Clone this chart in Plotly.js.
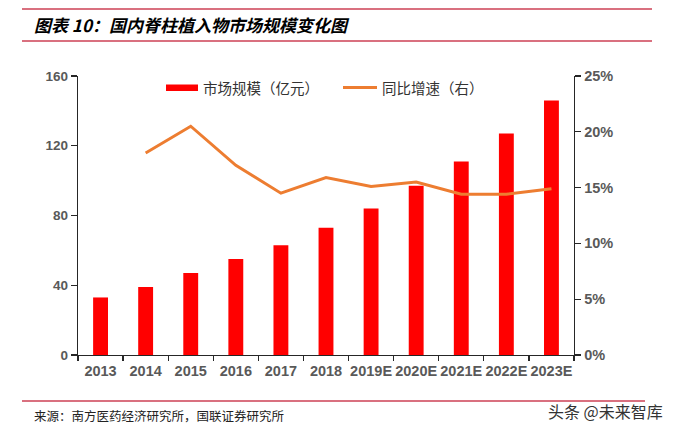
<!DOCTYPE html>
<html>
<head>
<meta charset="utf-8">
<script src="https://cdn.plot.ly/plotly-3.0.1.min.js"></script>
<style>html,body{margin:0;padding:0;background:#fff;}#chart{width:685px;height:433px;}</style>
</head>
<body>
<div id="chart"></div>
<script>
const categories = ['2013','2014','2015','2016','2017','2018','2019E','2020E','2021E','2022E','2023E'];
const marketSize = [33, 39, 47, 55, 63, 73, 84, 97, 111, 127, 146];
const growthRate = [null, 0.181, 0.205, 0.170, 0.145, 0.159, 0.151, 0.155, 0.144, 0.144, 0.149];
const leftTicks = [0, 40, 80, 120, 160];
const rightTicks = [0, 0.05, 0.10, 0.15, 0.20, 0.25];
const seriesNames = ['市场规模（亿元）', '同比增速（右）'];
const titleText = '图表 10：国内脊柱植入物市场规模变化图';
const sourceText = '来源：南方医药经济研究所，国联证券研究所';
const watermarkText = '头条 @未来智库';

const W = 685, H = 433;
const M = {l: 78, r: 111, t: 76, b: 78};
const PW = W - M.l - M.r, PH = H - M.t - M.b;
const px = x => (x - M.l) / PW;
const py = y => (H - M.b - y) / PH;

const axisColor = '#262626';
const tickFontColor = '#595959';
const cjk = '"Noto Sans CJK SC", "Noto Sans", sans-serif';
const arial = 'Liberation Sans, Arial, sans-serif';

const traces = [
  {
    type: 'bar', x: categories, y: marketSize, name: seriesNames[0],
    marker: {color: '#FF0000'}, yaxis: 'y', showlegend: false, hoverinfo: 'x+y'
  },
  {
    type: 'scatter', mode: 'lines', x: categories, y: growthRate, name: seriesNames[1],
    line: {color: '#ED7D31', width: 3}, yaxis: 'y2', showlegend: false, connectgaps: false
  }
];

const pinkLine = '#D9707F';
const layout = {
  width: W, height: H,
  margin: M,
  paper_bgcolor: '#fff', plot_bgcolor: '#fff',
  bargap: 0.67,
  showlegend: false,
  xaxis: {
    type: 'category', showline: true, linecolor: axisColor, linewidth: 1.3,
    ticks: 'outside', tickson: 'boundaries', ticklen: 5, tickcolor: axisColor, tickwidth: 1.3,
    tickangle: 0, ticklabelstandoff: 2,
    tickfont: {family: arial, size: 14.5, color: tickFontColor, weight: 'bold'},
    showgrid: false, zeroline: false, fixedrange: true
  },
  yaxis: {
    range: [0, 160], tickvals: leftTicks, showline: true, linecolor: axisColor, linewidth: 1.3,
    ticks: 'outside', ticklen: 6, tickcolor: axisColor, tickwidth: 1.3,
    tickfont: {family: arial, size: 13.5, color: tickFontColor, weight: 'bold'},
    showgrid: false, zeroline: false, fixedrange: true
  },
  yaxis2: {
    range: [0, 0.25], tickvals: rightTicks, tickformat: '.0%', overlaying: 'y', side: 'right',
    showline: true, linecolor: axisColor, linewidth: 1.3,
    ticks: 'outside', ticklen: 6, tickcolor: axisColor, tickwidth: 1.3,
    tickfont: {family: arial, size: 14.5, color: tickFontColor, weight: 'bold'},
    showgrid: false, zeroline: false, fixedrange: true
  },
  shapes: [
    {type: 'line', xref: 'paper', yref: 'paper', x0: px(22), x1: px(652), y0: py(9), y1: py(9), line: {color: pinkLine, width: 2}},
    {type: 'line', xref: 'paper', yref: 'paper', x0: px(22), x1: px(652), y0: py(41), y1: py(41), line: {color: pinkLine, width: 2}},
    {type: 'line', xref: 'paper', yref: 'paper', x0: px(22), x1: px(645), y0: py(401), y1: py(401), line: {color: pinkLine, width: 2}},
    {type: 'rect', xref: 'paper', yref: 'paper', x0: px(166), x1: px(198), y0: py(91), y1: py(84.5), fillcolor: '#FF0000', line: {width: 0}},
    {type: 'line', xref: 'paper', yref: 'paper', x0: px(343), x1: px(377), y0: py(87.5), y1: py(87.5), line: {color: '#ED7D31', width: 3}}
  ],
  annotations: [
    {xref: 'paper', yref: 'paper', x: px(32), y: py(25), xanchor: 'left', yanchor: 'middle', showarrow: false,
     text: '<b><i>' + titleText + '</i></b>', font: {family: cjk, size: 17, color: '#000'}},
    {xref: 'paper', yref: 'paper', x: px(201), y: py(87.5), xanchor: 'left', yanchor: 'middle', showarrow: false,
     text: seriesNames[0], font: {family: cjk, size: 14.5, color: '#333'}},
    {xref: 'paper', yref: 'paper', x: px(380), y: py(87.5), xanchor: 'left', yanchor: 'middle', showarrow: false,
     text: seriesNames[1], font: {family: cjk, size: 14.5, color: '#333'}},
    {xref: 'paper', yref: 'paper', x: px(32), y: py(415), xanchor: 'left', yanchor: 'middle', showarrow: false,
     text: sourceText, font: {family: cjk, size: 12.5, color: '#222'}},
    {xref: 'paper', yref: 'paper', x: px(546), y: py(411), xanchor: 'left', yanchor: 'middle', showarrow: false,
     text: watermarkText, font: {family: cjk, size: 16, color: '#333'}}
  ]
};

Plotly.newPlot('chart', traces, layout, {staticPlot: true, displayModeBar: false});
</script>
</body>
</html>
